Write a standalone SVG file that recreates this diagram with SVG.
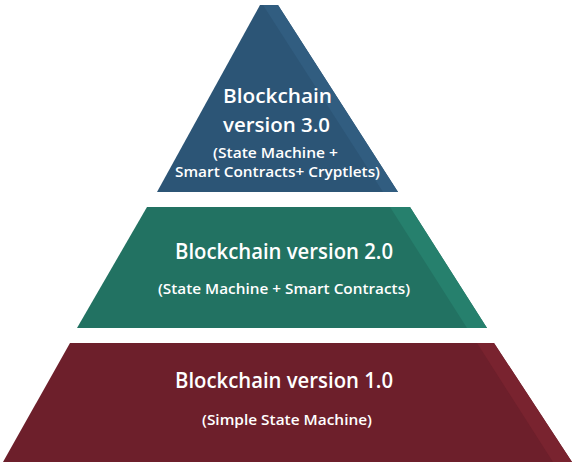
<svg xmlns="http://www.w3.org/2000/svg" width="577" height="474" viewBox="0 0 577 474">
<style>
text{font-family:"Open Sans","Noto Sans",sans-serif;font-weight:600;fill:#ffffff;text-anchor:middle}
.t{font-size:21px}
.s{font-size:14.5px}
.t3{font-size:20px}
.s3{font-size:13.5px}
</style>
<rect width="577" height="474" fill="#ffffff"/>
<g id="level3">
<polygon points="260,5 278,5 398,192 157,192" fill="#2c5576"/>
<polygon points="263,5 278,5 398,192 383,192" fill="#315d80"/>
<text class="t3" x="277.5" y="103" textLength="109" lengthAdjust="spacingAndGlyphs">Blockchain</text>
<text class="t3" x="276.5" y="132" textLength="107" lengthAdjust="spacingAndGlyphs">version 3.0</text>
<text class="s3" x="275.5" y="158" textLength="125" lengthAdjust="spacingAndGlyphs">(State Machine +</text>
<text class="s3" x="277.5" y="177" textLength="205" lengthAdjust="spacingAndGlyphs">Smart Contracts+ Cryptlets)</text>
</g>
<g id="level2">
<polygon points="147,207 410,207 487,328 77,328" fill="#227262"/>
<polygon points="390,207 410,207 487,328 467,328" fill="#26806d"/>
<text class="t" x="284" y="259" textLength="218" lengthAdjust="spacingAndGlyphs">Blockchain version 2.0</text>
<text class="s" x="284" y="294" textLength="252" lengthAdjust="spacingAndGlyphs">(State Machine + Smart Contracts)</text>
</g>
<g id="level1">
<polygon points="70,343 494,343 572,462 3,462" fill="#6d1f2b"/>
<polygon points="477,343 494,343 572,462 553,462" fill="#79232f"/>
<text class="t" x="284" y="388" textLength="218" lengthAdjust="spacingAndGlyphs">Blockchain version 1.0</text>
<text class="s" x="287" y="425" textLength="170" lengthAdjust="spacingAndGlyphs">(Simple State Machine)</text>
</g>
<g id="connectors"></g>
</svg>
